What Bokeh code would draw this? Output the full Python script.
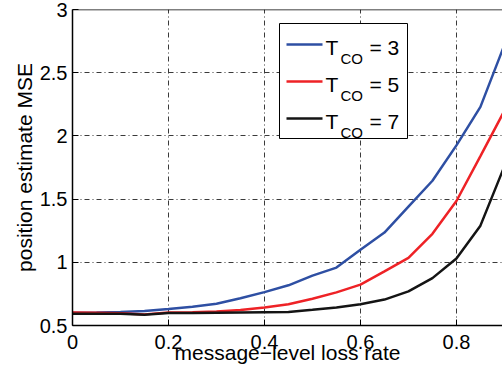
from bokeh.plotting import figure
from bokeh.models import Range1d, FixedTicker, Span, BoxAnnotation, Label, Arrow
from bokeh.embed import file_html
from bokeh.resources import INLINE

# ---- data ----
loss_rate = [0.0, 0.05, 0.10, 0.15, 0.20, 0.25, 0.30, 0.35, 0.40, 0.45,
             0.50, 0.55, 0.60, 0.65, 0.70, 0.75, 0.80, 0.85, 0.90]
mse_tco3 = [0.600, 0.602, 0.607, 0.615, 0.630, 0.648, 0.672, 0.715, 0.764, 0.818,
            0.895, 0.958, 1.100, 1.235, 1.440, 1.645, 1.925, 2.230, 2.720]
mse_tco5 = [0.602, 0.601, 0.597, 0.588, 0.603, 0.605, 0.611, 0.623, 0.643, 0.668,
            0.712, 0.762, 0.823, 0.928, 1.035, 1.225, 1.485, 1.840, 2.200]
mse_tco7 = [0.592, 0.592, 0.592, 0.585, 0.598, 0.599, 0.601, 0.603, 0.605, 0.607,
            0.624, 0.643, 0.668, 0.705, 0.770, 0.875, 1.030, 1.290, 1.760]
series_values = [mse_tco3, mse_tco5, mse_tco7]
series_tco = ["3", "5", "7"]
series_colors = ["#2e4fa3", "#ee2226", "#141414"]

x_ticks = [0.0, 0.2, 0.4, 0.6, 0.8]
x_tick_labels = ["0", "0.2", "0.4", "0.6", "0.8"]
y_ticks = [0.5, 1.0, 1.5, 2.0, 2.5, 3.0]
y_tick_labels = ["0.5", "1", "1.5", "2", "2.5", "3"]

x_label = "message\u2212level loss rate"
y_label = "position estimate MSE"

# ---- layout ----
X0, X1 = 0.0, 0.896
Y0, Y1 = 0.5, 3.0
FW, FH = 430, 316
FL, FT = 72, 9          # frame left / top in page pixels
FONT = "Liberation Sans"

p = figure(frame_width=FW, frame_height=FH,
           x_range=Range1d(X0, X1), y_range=Range1d(Y0, Y1),
           output_backend="svg", toolbar_location=None,
           min_border_left=FL, min_border_right=0,
           min_border_top=FT, min_border_bottom=48)
p.outline_line_color = None
p.background_fill_color = "white"
p.border_fill_color = "white"

# grid (matlab dash-dot)
p.grid.grid_line_color = "#3a3a3a"
p.grid.grid_line_dash = "5 3 1 3"
p.grid.grid_line_width = 1
p.grid.grid_line_alpha = 1.0

# axes
p.xaxis.ticker = FixedTicker(ticks=x_ticks)
p.yaxis.ticker = FixedTicker(ticks=y_ticks)
p.xaxis.major_label_overrides = dict(zip(x_ticks, x_tick_labels))
p.yaxis.major_label_overrides = dict(zip(y_ticks, y_tick_labels))
for ax in (p.xaxis[0], p.yaxis[0]):
    ax.axis_line_color = "black"
    ax.axis_line_width = 1.5
    ax.major_tick_in = 6
    ax.major_tick_out = 0
    ax.major_tick_line_color = "black"
    ax.minor_tick_line_color = None
    ax.major_label_text_font = FONT
    ax.major_label_text_font_size = "20px"
    ax.major_label_text_color = "black"
    ax.axis_label_text_font = FONT
    ax.axis_label_text_font_size = "21px"
    ax.axis_label_text_font_style = "normal"
    ax.axis_label_text_color = "black"
p.xaxis.axis_label = x_label
p.yaxis.axis_label = y_label
p.xaxis.major_label_standoff = 9
p.xaxis.axis_label_standoff = -11
p.yaxis.major_label_standoff = 5
p.yaxis.axis_label_standoff = 1

# top border of the box
p.add_layout(Span(location=Y1, dimension="width", line_color="black", line_width=1.5))

# curves
for vals, col in zip(series_values, series_colors):
    p.line(loss_rate, vals, line_color=col, line_width=2.5)

# ---- legend (drawn manually to get the subscript) ----
def dx(px):
    return X0 + (px - FL) * (X1 - X0) / FW

def dy(py):
    return Y1 - (py - FT) * (Y1 - Y0) / FH

p.add_layout(BoxAnnotation(left=dx(279), right=dx(407), top=dy(23), bottom=dy(138),
                           fill_color="white", fill_alpha=1.0,
                           line_color="black", line_width=1, line_alpha=1.0))
row_y = [44, 81, 118]
for i, (tco, col) in enumerate(zip(series_tco, series_colors)):
    ly = row_y[i]
    p.add_layout(Arrow(end=None, x_start=dx(286), y_start=dy(ly),
                       x_end=dx(322), y_end=dy(ly),
                       line_color=col, line_width=2.5))
    base = ly + 3
    p.add_layout(Label(x=dx(325), y=dy(base), text="T", text_font=FONT,
                       text_font_size="21px", text_baseline="alphabetic",
                       text_align="left", text_color="black"))
    p.add_layout(Label(x=dx(340), y=dy(base + 11), text="CO", text_font=FONT,
                       text_font_size="15px", text_baseline="alphabetic",
                       text_align="left", text_color="black"))
    p.add_layout(Label(x=dx(369), y=dy(base), text="= " + tco, text_font=FONT,
                       text_font_size="21px", text_baseline="alphabetic",
                       text_align="left", text_color="black"))

open("out.html", "w").write(file_html(p, INLINE))
